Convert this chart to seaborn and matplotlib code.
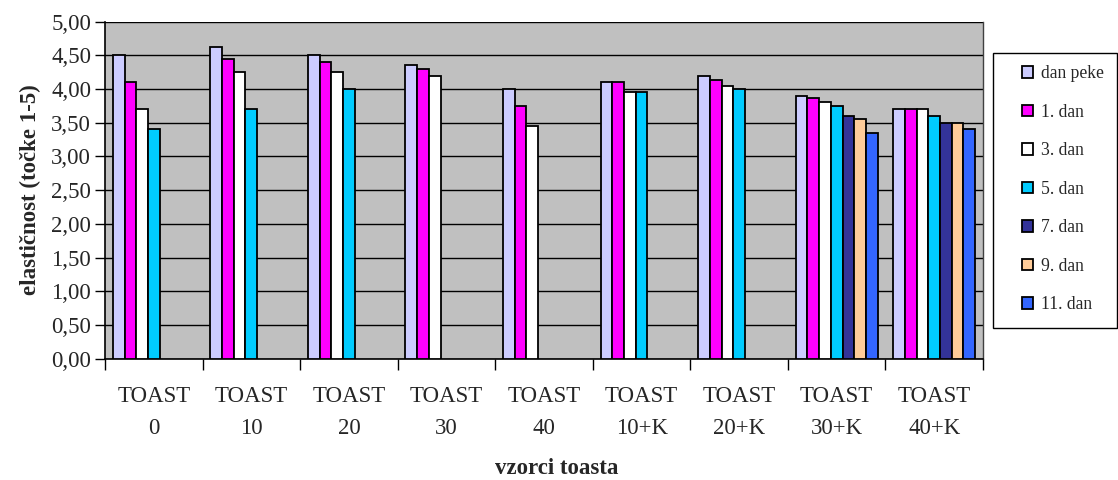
import numpy as np
import pandas as pd
import matplotlib
matplotlib.use("Agg")
import matplotlib.pyplot as plt
from matplotlib.patches import Patch, Rectangle
from matplotlib.ticker import FuncFormatter, FixedLocator
import seaborn as sns

categories = ["TOAST\n0", "TOAST\n10", "TOAST\n20", "TOAST\n30", "TOAST\n40",
              "TOAST\n10+K", "TOAST\n20+K", "TOAST\n30+K", "TOAST\n40+K"]
series_names = ["dan peke", "1. dan", "3. dan", "5. dan", "7. dan", "9. dan", "11. dan"]
nan = np.nan
dan_peke = [4.50, 4.63, 4.50, 4.36, 4.00, 4.10, 4.20, 3.89, 3.70]
dan_1    = [4.10, 4.45, 4.40, 4.30, 3.75, 4.10, 4.13, 3.86, 3.70]
dan_3    = [3.70, 4.25, 4.25, 4.20, 3.45, 3.95, 4.05, 3.80, 3.70]
dan_5    = [3.40, 3.70, 4.00, nan,  nan,  3.95, 4.00, 3.75, 3.60]
dan_7    = [nan,  nan,  nan,  nan,  nan,  nan,  nan,  3.60, 3.50]
dan_9    = [nan,  nan,  nan,  nan,  nan,  nan,  nan,  3.55, 3.50]
dan_11   = [nan,  nan,  nan,  nan,  nan,  nan,  nan,  3.35, 3.40]
colors = ["#CCCCFF", "#FF00FF", "#FFFFFF", "#00CCFF", "#333399", "#FFCC99", "#3366FF"]

all_series = [dan_peke, dan_1, dan_3, dan_5, dan_7, dan_9, dan_11]
rows = []
for name, vals in zip(series_names, all_series):
    for cat, v in zip(categories, vals):
        rows.append({"vzorec": cat, "serija": name, "vrednost": v})
df = pd.DataFrame(rows).dropna()

sns.set_theme(style="white")
plt.rcParams["font.family"] = ["Liberation Serif", "DejaVu Serif"]

fig = plt.figure(figsize=(11.18, 4.8), dpi=100)
ax = fig.add_axes([105/1118, 1-358.6/480, (983-105)/1118, (358.6-21.6)/480])
ax.set_facecolor("#C0C0C0")

sns.barplot(data=df, x="vzorec", y="vrednost", hue="serija",
            order=categories, hue_order=series_names,
            palette=dict(zip(series_names, colors)),
            width=0.84, dodge=True, errorbar=None, saturation=1,
            edgecolor="black", linewidth=1.3, ax=ax, legend=False, zorder=3)

ax.set_ylim(0, 5)
ax.set_xlim(-0.5, len(categories) - 0.5)
ax.set_yticks(np.arange(0, 5.01, 0.5))
ax.yaxis.set_major_formatter(FuncFormatter(lambda v, p: f"{v:.2f}".replace(".", ",")))
ax.grid(axis="y", color="black", linewidth=1.0, zorder=0)
ax.set_axisbelow(True)
ax.tick_params(axis="y", direction="out", length=7, width=1, color="black",
               labelsize=16.5, pad=3, left=True)

ax.xaxis.set_major_locator(FixedLocator(np.arange(-0.5, len(categories), 1.0)))
ax.xaxis.set_minor_locator(FixedLocator(np.arange(0, len(categories), 1.0)))
ax.set_xticklabels([""] * (len(categories) + 1))
ax.set_xticklabels(categories, minor=True)
ax.tick_params(axis="x", which="major", direction="out", length=8, width=1,
               color="black", bottom=True)
ax.tick_params(axis="x", which="minor", length=0, labelsize=16.5, pad=20)
for t in ax.get_xticklabels(minor=True):
    t.set_linespacing(1.65)

ax.set_xlabel("")
ax.set_ylabel("")
for s in ["left", "bottom"]:
    ax.spines[s].set_color("black")
    ax.spines[s].set_linewidth(1.2)
ax.spines["top"].set_visible(False)
ax.spines["right"].set_color("#404040")
ax.spines["right"].set_linewidth(1.0)

fig.text(557/1118, 1-468/480, "vzorci toasta", ha="center", va="center",
         fontsize=16.5, fontweight="bold")
fig.text(30/1118, 1-190/480, "elastičnost (točke 1-5)", ha="center", va="center",
         rotation=90, fontsize=16.5, fontweight="bold")

fig.patches.append(Rectangle((993/1118, 1-328/480), 124/1118, 275/480,
                             transform=fig.transFigure, facecolor="white",
                             edgecolor="black", linewidth=1.0, zorder=1))
handles = [Patch(facecolor=c, edgecolor="black", linewidth=1.3) for c in colors]
leg = fig.legend(handles, series_names, loc="upper left",
                 bbox_to_anchor=(1022/1118, 1-65/480), frameon=False,
                 fontsize=12.7, handlelength=0.62, handleheight=0.62,
                 handletextpad=0.45, labelspacing=1.22, borderpad=0,
                 borderaxespad=0)
leg.set_zorder(2)

fig.savefig("out.png", dpi=100)
